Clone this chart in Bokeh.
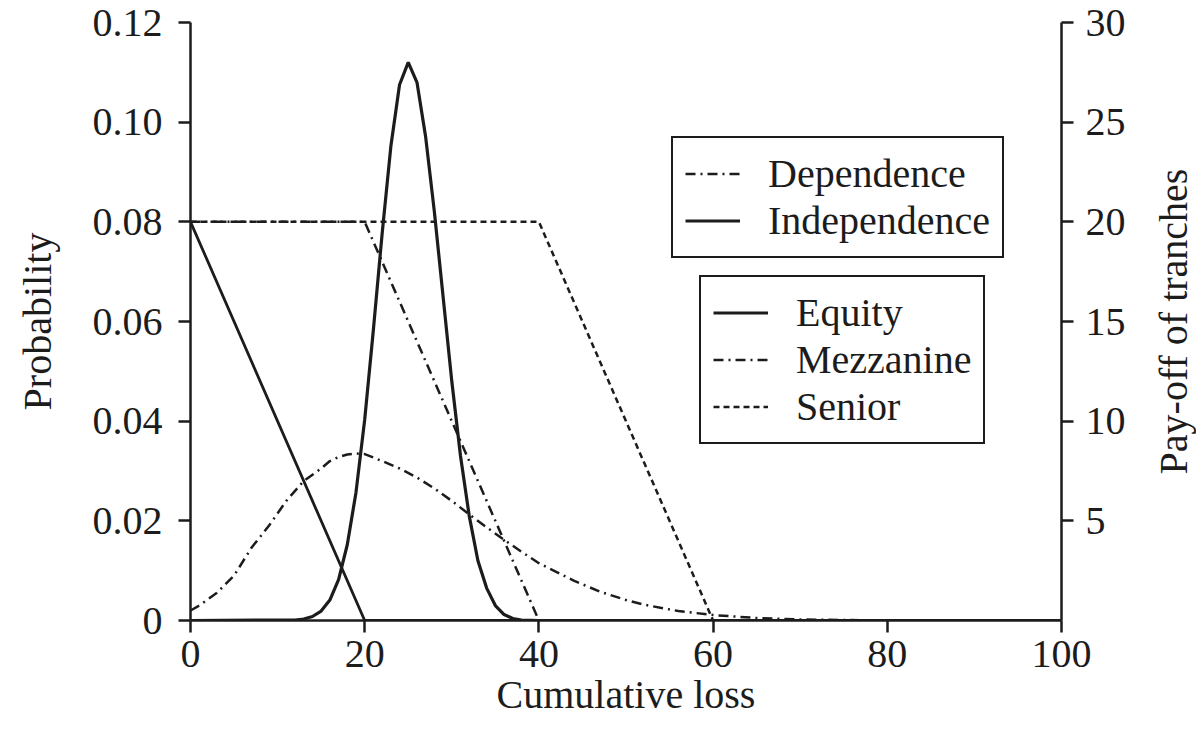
from bokeh.plotting import figure
from bokeh.layouts import row
from bokeh.models import (Range1d, LinearAxis, FixedTicker, Legend, LegendItem)
from bokeh.embed import file_html
from bokeh.resources import INLINE

# ---------------- data ----------------
loss_ticks = [0, 20, 40, 60, 80, 100]
prob_ticks = [0, 0.02, 0.04, 0.06, 0.08, 0.10, 0.12]
prob_labels = ["0", "0.02", "0.04", "0.06", "0.08", "0.10", "0.12"]
payoff_ticks = [5, 10, 15, 20, 25, 30]
payoff_labels = ["5", "10", "15", "20", "25", "30"]

# Independence: probability density of cumulative loss
indep_x = [0, 12, 13, 14, 15, 16, 17, 18, 19, 20, 21, 22, 23, 24, 25,
           26, 27, 28, 29, 30, 31, 32, 33, 34, 35, 36, 37, 38, 40, 100]
indep_y = [0, 0.0001, 0.0003, 0.0008, 0.0019, 0.0041, 0.0082, 0.0152, 0.0257,
           0.0403, 0.0584, 0.0776, 0.0951, 0.1075, 0.112,
           0.108, 0.097, 0.082, 0.065, 0.048, 0.033, 0.021, 0.012, 0.0065,
           0.003, 0.0012, 0.0004, 0.0001, 0, 0]

# Dependence: probability density of cumulative loss
dep_x = [0, 1, 3, 5, 7, 9, 11, 13, 15, 16, 17, 18, 19, 20, 22, 24, 26, 28,
         30, 32, 34, 36, 38, 40, 44, 47, 50, 52, 56, 60, 65, 70, 75, 80, 90, 100]
dep_y = [0.002, 0.003, 0.0055, 0.009, 0.0146, 0.019, 0.024, 0.028, 0.0305,
         0.032, 0.0328, 0.0333, 0.0335, 0.0334, 0.032, 0.0305, 0.0287, 0.0265,
         0.024, 0.0213, 0.0187, 0.0162, 0.0138, 0.0115, 0.008, 0.0058, 0.0041,
         0.0032, 0.0019, 0.0011, 0.0005, 0.0002, 0.0001, 0, 0, 0]

# Pay-off of tranches
equity_x = [0, 20, 100]
equity_y = [20, 0, 0]
mezz_x = [0, 20, 40, 100]
mezz_y = [20, 20, 0, 0]
senior_x = [0, 40, 60, 100]
senior_y = [20, 20, 0, 0]

# ---------------- figure ----------------
FONT = "Liberation Serif"
INK = "#1c1c1c"

p = figure(frame_width=871, frame_height=598, output_backend="svg",
           toolbar_location=None, x_range=Range1d(0, 100),
           y_range=Range1d(0, 0.12),
           min_border_left=190, min_border_top=22, min_border_bottom=60,
           min_border_right=86)
p.outline_line_color = None
p.xgrid.visible = False
p.ygrid.visible = False
p.background_fill_color = "white"
p.border_fill_color = "white"

p.extra_y_ranges = {"payoff": Range1d(0, 30)}

def style_axis(ax):
    ax.axis_line_color = INK
    ax.axis_line_width = 2.5
    ax.major_tick_line_color = INK
    ax.major_tick_line_width = 2.5
    ax.major_tick_out = 12
    ax.major_tick_in = 0
    ax.minor_tick_line_color = None
    ax.major_label_text_font = FONT
    ax.major_label_text_font_size = "40px"
    ax.major_label_text_color = INK
    ax.axis_label_text_font = FONT
    ax.axis_label_text_font_size = "40px"
    ax.axis_label_text_font_style = "normal"
    ax.axis_label_text_color = INK

xa = p.xaxis[0]
style_axis(xa)
xa.ticker = FixedTicker(ticks=loss_ticks)
xa.axis_label = "Cumulative loss"
xa.major_label_standoff = 8
xa.axis_label_standoff = 2

ya = p.yaxis[0]
style_axis(ya)
ya.ticker = FixedTicker(ticks=prob_ticks)
ya.major_label_overrides = {t: l for t, l in zip(prob_ticks, prob_labels)}
ya.axis_label = "Probability"
ya.major_label_standoff = 16
ya.axis_label_standoff = 30

ra = LinearAxis(y_range_name="payoff")
style_axis(ra)
ra.ticker = FixedTicker(ticks=payoff_ticks)
ra.major_label_overrides = {t: l for t, l in zip(payoff_ticks, payoff_labels)}
ra.major_label_standoff = 12
p.add_layout(ra, "right")

# ---------------- curves ----------------
r_indep = p.line(indep_x, indep_y, line_color=INK, line_width=3.2)
r_dep = p.line(dep_x, dep_y, line_color=INK, line_width=2.5,
               line_dash="10 5 2 5")
r_eq = p.line(equity_x, equity_y, y_range_name="payoff", line_color=INK,
              line_width=2.8)
r_mz = p.line(mezz_x, mezz_y, y_range_name="payoff", line_color=INK,
              line_width=2.5, line_dash="10 5 2 5")
r_sn = p.line(senior_x, senior_y, y_range_name="payoff", line_color=INK,
              line_width=2.5, line_dash="6 4")

def make_legend(items, loc):
    lg = Legend(items=items, location=loc)
    lg.label_text_font = FONT
    lg.label_text_font_size = "40px"
    lg.label_text_line_height = 0.95
    lg.label_text_color = INK
    lg.label_height = 47
    lg.glyph_height = 47
    lg.glyph_width = 55
    lg.label_standoff = 28
    lg.spacing = 0
    lg.padding = 12
    lg.margin = 0
    lg.border_line_color = INK
    lg.border_line_alpha = 1.0
    lg.border_line_width = 2.5
    lg.background_fill_color = "white"
    lg.background_fill_alpha = 1.0
    return lg

leg1 = make_legend([LegendItem(label="Dependence", renderers=[r_dep]),
                    LegendItem(label="Independence", renderers=[r_indep])],
                   (481, 362))
leg2 = make_legend([LegendItem(label="Equity", renderers=[r_eq]),
                    LegendItem(label="Mezzanine", renderers=[r_mz]),
                    LegendItem(label="Senior", renderers=[r_sn])],
                   (509, 176))
p.add_layout(leg1)
p.add_layout(leg2)

# ---- narrow companion figure that carries the right-hand axis title,
#      reading bottom-to-top and centred on the frame as in the reference
t = figure(frame_width=1, frame_height=598, output_backend="svg",
           toolbar_location=None, x_range=Range1d(0, 1),
           y_range=Range1d(0, 30), x_axis_location=None,
           min_border_left=0, min_border_top=22, min_border_bottom=60,
           min_border_right=0)
t.outline_line_color = None
t.xgrid.visible = False
t.ygrid.visible = False
t.background_fill_color = "white"
t.border_fill_color = "white"
ta = t.yaxis[0]
style_axis(ta)
ta.axis_label = "Pay-off of tranches"
ta.ticker = FixedTicker(ticks=[])
ta.axis_line_color = None
ta.major_tick_line_color = None
ta.major_label_text_font_size = "0px"
ta.major_label_standoff = 0
ta.axis_label_standoff = 0

layout = row(p, t, spacing=0)

open("out.html", "w").write(file_html(layout, INLINE))
